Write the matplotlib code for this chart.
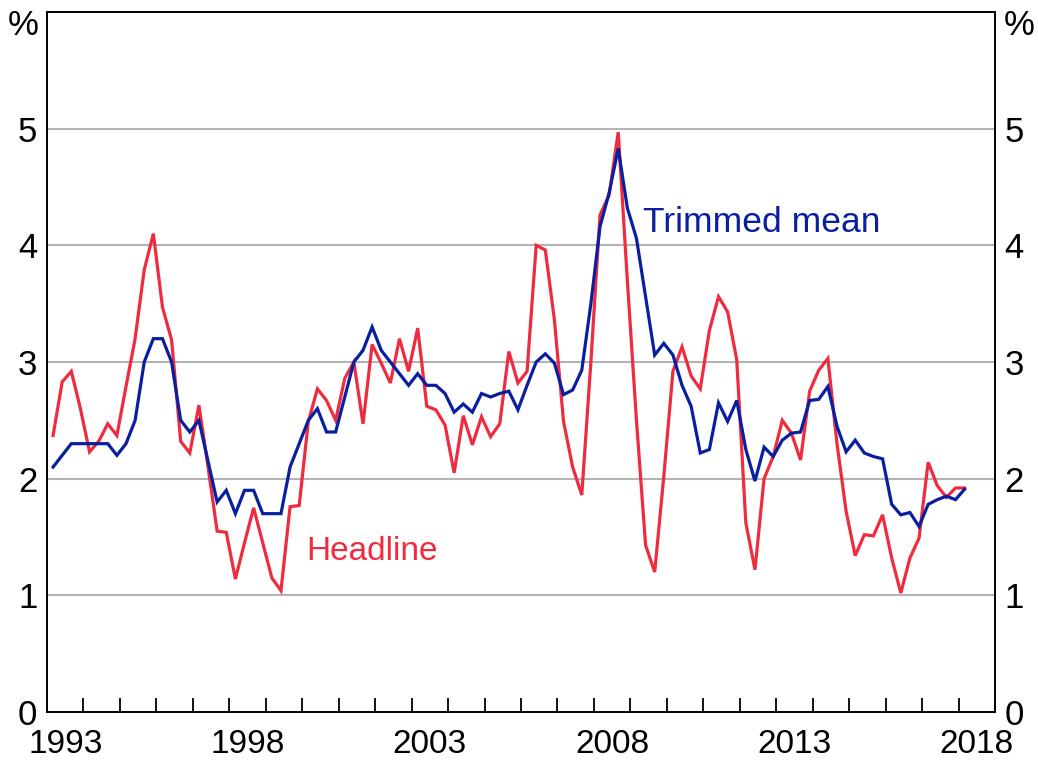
import numpy as np
import matplotlib
matplotlib.use("Agg")
import matplotlib.pyplot as plt
from matplotlib.ticker import FixedLocator, NullFormatter

# Quarterly data, March quarter 1993 to March quarter 2018 (year-ended, %)
start_year = 1993
n_quarters = 101

trimmed_mean = [
    2.10, 2.20, 2.30, 2.30, 2.30, 2.30, 2.30, 2.20, 2.30, 2.50,
    3.00, 3.20, 3.20, 3.00, 2.50, 2.40, 2.50, 2.15, 1.80, 1.90,
    1.70, 1.90, 1.90, 1.70, 1.70, 1.70, 2.10, 2.30, 2.50, 2.60,
    2.40, 2.40, 2.70, 3.00, 3.10, 3.30, 3.10, 3.00, 2.90, 2.80,
    2.90, 2.80, 2.80, 2.73, 2.57, 2.64, 2.57, 2.73, 2.70, 2.73,
    2.75, 2.59, 2.80, 3.00, 3.07, 2.99, 2.72, 2.76, 2.93, 3.50,
    4.16, 4.45, 4.83, 4.32, 4.06, 3.56, 3.06, 3.16, 3.06, 2.80,
    2.62, 2.22, 2.25, 2.65, 2.49, 2.67, 2.25, 1.98, 2.27, 2.19,
    2.33, 2.39, 2.40, 2.67, 2.68, 2.79, 2.45, 2.23, 2.33, 2.22,
    2.19, 2.17, 1.78, 1.69, 1.71, 1.59, 1.78, 1.82, 1.85, 1.82,
    1.91,
]

headline = [
    2.37, 2.83, 2.92, 2.60, 2.23, 2.32, 2.47, 2.37, 2.79, 3.20,
    3.79, 4.10, 3.47, 3.19, 2.32, 2.22, 2.63, 2.10, 1.55, 1.54,
    1.14, 1.45, 1.75, 1.45, 1.15, 1.04, 1.76, 1.77, 2.49, 2.77,
    2.67, 2.50, 2.86, 3.00, 2.47, 3.15, 2.99, 2.82, 3.20, 2.92,
    3.29, 2.62, 2.59, 2.46, 2.05, 2.54, 2.29, 2.53, 2.36, 2.47,
    3.09, 2.82, 2.92, 4.00, 3.96, 3.36, 2.49, 2.10, 1.86, 3.00,
    4.26, 4.43, 4.97, 3.70, 2.50, 1.43, 1.20, 2.02, 2.92, 3.13,
    2.88, 2.77, 3.27, 3.56, 3.43, 3.02, 1.62, 1.22, 2.00, 2.19,
    2.50, 2.39, 2.16, 2.75, 2.93, 3.03, 2.30, 1.72, 1.34, 1.52,
    1.51, 1.69, 1.32, 1.02, 1.32, 1.49, 2.14, 1.94, 1.84, 1.92,
    1.92,
]

year_labels = ["1993", "1998", "2003", "2008", "2013", "2018"]
y_ticks = [0, 1, 2, 3, 4, 5]

RED = "#EF2B3F"
BLUE = "#0A1FA0"

plt.rcParams["font.family"] = ["Liberation Sans", "DejaVu Sans"]

# x positions: end of the middle month of each quarter
q_idx = np.arange(n_quarters)
x = start_year + (q_idx // 4) + ((q_idx % 4) * 3 + 2) / 12.0

fig = plt.figure(figsize=(10.38, 7.64), dpi=100)
ax = fig.add_axes([47 / 1038, 1 - 712 / 764, (995 - 47) / 1038, (712 - 12) / 764])

ax.plot(x, headline, color=RED, lw=2.3, solid_joinstyle="miter", zorder=3)
ax.plot(x, trimmed_mean, color=BLUE, lw=2.3, solid_joinstyle="miter", zorder=4)

ax.set_xlim(1993, 2019)
ax.set_ylim(0, 6)

# gridlines
for v in y_ticks[1:]:
    ax.axhline(v, color="#B4B4B4", lw=1.5, zorder=1)

# y axes (both sides)
ax.set_yticks(y_ticks)
ax.set_yticklabels([str(v) for v in y_ticks])
ax.tick_params(axis="y", which="both", length=0, labelsize=25, pad=7,
               left=True, right=True, labelleft=True, labelright=True)

# x ticks: year boundaries (marks), labels centred in year
ax.xaxis.set_major_locator(FixedLocator(np.arange(1994, 2019)))
ax.xaxis.set_major_formatter(NullFormatter())
label_years = [int(s) + 0.5 for s in year_labels]
ax.xaxis.set_minor_locator(FixedLocator(label_years))
ax.set_xticklabels(year_labels, minor=True)
ax.tick_params(axis="x", which="major", direction="in", length=10, width=1.3,
               color="black")
ax.tick_params(axis="x", which="minor", length=0, labelsize=24, pad=12)

for s in ax.spines.values():
    s.set_color("black")
    s.set_linewidth(1.4)

# % labels
ax.annotate("%", xy=(0, 1), xycoords="axes fraction", xytext=(-6, 2),
            textcoords="offset points", ha="right", va="top", fontsize=25)
ax.annotate("%", xy=(1, 1), xycoords="axes fraction", xytext=(6, 2),
            textcoords="offset points", ha="left", va="top", fontsize=25)

# series labels
ax.text(2009.35, 4.2, "Trimmed mean", color=BLUE, fontsize=25.5, ha="left",
        va="center")
ax.text(2000.1, 1.38, "Headline", color=RED, fontsize=24, ha="left",
        va="center")

fig.savefig("out.png", dpi=100)
